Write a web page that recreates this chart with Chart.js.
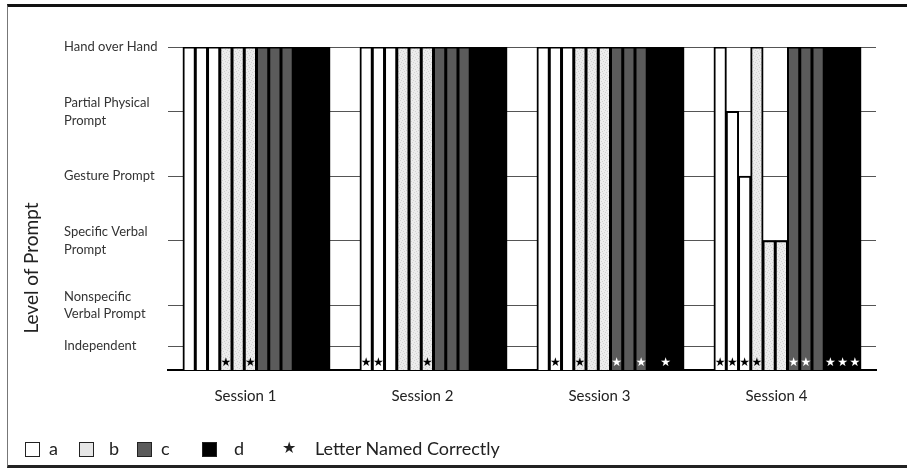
<!DOCTYPE html>
<html>
<head>
<meta charset="utf-8">
<script src="https://cdn.jsdelivr.net/npm/chart.js@4.4.0/dist/chart.umd.min.js"></script>
<style>
body { margin: 0; background: #fff; }
#wrap { position: relative; width: 907px; height: 468px; overflow: hidden; font-family: Lato, sans-serif; color: #222; }
#frame { position: absolute; left: 7px; top: 4px; width: 930px; height: 464px; box-sizing: border-box;
  border-top: 3px solid #111; border-left: 1px solid #777; border-bottom: 3px solid #222; }
#chart { position: absolute; left: 0; top: 0; }
#ytitle { position: absolute; left: 30px; top: 268px; transform: translate(-50%, -50%) rotate(-90deg);
  white-space: nowrap; font-size: 19px; color: #222; }
.lg { position: absolute; top: 437px; font-size: 18px; line-height: 22px; white-space: nowrap; }
.box { position: absolute; top: 442px; width: 15px; height: 15px; box-sizing: border-box; border: 1.5px solid #222; }
</style>
</head>
<body>
<div id="wrap">
  <div id="frame"></div>
  <canvas id="chart" width="907" height="468"></canvas>
  <div id="ytitle">Level of Prompt</div>
  <div class="box" style="left:25px;background:#fff"></div>
  <span class="lg" style="left:49px">a</span>
  <div class="box" style="left:79px;background:#e6e6e6"></div>
  <span class="lg" style="left:109px">b</span>
  <div class="box" style="left:137px;background:#5b5b5b"></div>
  <span class="lg" style="left:161px">c</span>
  <div class="box" style="left:202px;background:#000"></div>
  <span class="lg" style="left:234px">d</span>
  <span class="lg" style="left:282px;font-family:'DejaVu Sans';font-size:16px">★</span>
  <span class="lg" style="left:315px">Letter Named Correctly</span>
</div>
<script>
// categories
var sessions = ['Session 1', 'Session 2', 'Session 3', 'Session 4'];
var letters = ['a', 'b', 'c', 'd'];

// prompt level scale (5 = Hand over Hand)
var levelTicks = [0.37, 1, 2, 3, 4, 5];
var levelLabels = [
    ['Independent'],
    ['Nonspecific', 'Verbal Prompt'],
    ['Specific Verbal', 'Prompt'],
    ['Gesture Prompt'],
    ['Partial Physical', 'Prompt'],
    ['Hand over Hand']
];

// prompt level of each trial: a a a b b b c c c d d d
var session1 = [5, 5, 5, 5, 5, 5, 5, 5, 5, 5, 5, 5];
var session2 = [5, 5, 5, 5, 5, 5, 5, 5, 5, 5, 5, 5];
var session3 = [5, 5, 5, 5, 5, 5, 5, 5, 5, 5, 5, 5];
var session4 = [5, 4, 3, 5, 2, 2, 5, 5, 5, 5, 5, 5];

// letter named correctly (1 = star)
var correct1 = [0, 0, 0, 1, 0, 1, 0, 0, 0, 0, 0, 0];
var correct2 = [1, 1, 0, 0, 0, 1, 0, 0, 0, 0, 0, 0];
var correct3 = [0, 1, 0, 1, 0, 0, 1, 0, 1, 0, 1, 0];
var correct4 = [1, 1, 1, 1, 0, 0, 1, 1, 0, 1, 1, 1];

var levels = [session1, session2, session3, session4];
var correct = [correct1, correct2, correct3, correct4];

window.onload = function() {

var ctx = document.getElementById('chart').getContext('2d');

// light speckled fill for the b bars
var tile = document.createElement('canvas');
tile.width = 6; tile.height = 6;
var t = tile.getContext('2d');
t.fillStyle = '#ececec';
t.fillRect(0, 0, 6, 6);
t.fillStyle = '#d0d0d0';
[[0, 0], [3, 1], [1, 3], [4, 4], [5, 2], [2, 5]].forEach(function(p) { t.fillRect(p[0], p[1], 1, 1); });
var speckle = ctx.createPattern(tile, 'repeat');

var fills = { a: '#ffffff', b: speckle, c: '#5b5b5b', d: '#000000' };

var datasets = [];
for (var i = 0; i < 12; i++) {
    var letter = letters[Math.floor(i / 3)];
    datasets.push({
        label: letter,
        data: levels.map(function(s) { return s[i]; }),
        backgroundColor: fills[letter],
        borderColor: '#000',
        borderWidth: 2,
        inflateAmount: 0.5,
        borderSkipped: 'start',
        barPercentage: 1.0,
        categoryPercentage: 0.83
    });
}

var starPlugin = {
    id: 'stars',
    afterDatasetsDraw: function(chart) {
        var c = chart.ctx;
        var bottom = chart.chartArea.bottom;
        c.save();
        c.font = '12px "DejaVu Sans"';
        c.textAlign = 'center';
        c.textBaseline = 'middle';
        chart.data.datasets.forEach(function(ds, i) {
            chart.getDatasetMeta(i).data.forEach(function(bar, j) {
                if (!correct[j][i]) return;
                c.fillStyle = i >= 6 ? '#fff' : '#000';
                c.fillText('★', bar.x, bottom - 7);
            });
        });
        c.restore();
    }
};

var chart = new Chart(ctx, {
    type: 'bar',
    data: {
        labels: sessions,
        datasets: datasets
    },
    plugins: [starPlugin],
    options: {
        responsive: false,
        animation: false,
        devicePixelRatio: 1,
        layout: { padding: { left: 64, top: 47, right: 31, bottom: 0 } },
        plugins: {
            legend: { display: false },
            tooltip: { enabled: false }
        },
        scales: {
            x: {
                offset: true,
                grid: { display: false },
                border: { display: true, color: '#000', width: 2 },
                ticks: {
                    color: '#222',
                    font: { family: 'Lato', size: 15 },
                    padding: 9,
                    labelOffset: -11
                },
                afterFit: function(s) { s.height = 98; }
            },
            y: {
                min: 0,
                max: 5,
                afterBuildTicks: function(s) {
                    s.ticks = levelTicks.map(function(v) { return { value: v }; });
                },
                grid: { color: '#555', lineWidth: 1, drawTicks: false },
                border: { display: false },
                ticks: {
                    crossAlign: 'far',
                    color: '#333',
                    font: { family: 'Lato', size: 13, lineHeight: 1.35 },
                    callback: function(value) {
                        var k = levelTicks.indexOf(value);
                        return k >= 0 ? levelLabels[k] : '';
                    }
                },
                afterFit: function(s) { s.width = 104; }
            }
        }
    }
});

}
</script>
</body>
</html>
